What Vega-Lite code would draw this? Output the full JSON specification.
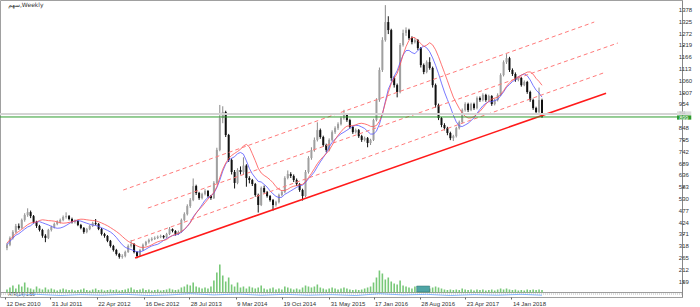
{
"$schema":"https://vega.github.io/schema/vega-lite/v6.json",
"width":682,"height":297,
"autosize":{"type":"none"},
"padding":{"left":0,"top":0,"right":18,"bottom":10},
"background":"white",
"config":{"view":{"stroke":"#a0a0a0","strokeWidth":1},"axis":{"labelFont":"Liberation Sans","labelFontSize":6,"labelColor":"#333","tickColor":"#666","domainColor":"#888","grid":false,"title":null,"labelOverlap":false,"labelFlush":false}},
"datasets":{
"one":[{"k":1}],
"yt":[{"p":159},{"p":212},{"p":265},{"p":318},{"p":371},{"p":424},{"p":477},{"p":530},{"p":583},{"p":636},{"p":689},{"p":742},{"p":795},{"p":848},{"p":954},{"p":1007},{"p":1060},{"p":1113},{"p":1166},{"p":1219},{"p":1272},{"p":1325},{"p":1378}],
"bars":[
{"i":0,"o":310,"h":332,"l":300,"c":324,"v":6},{"i":1,"o":324,"h":362,"l":318,"c":355,"v":10},{"i":2,"o":355,"h":390,"l":348,"c":382,"v":14},{"i":3,"o":382,"h":418,"l":376,"c":409,"v":8},{"i":4,"o":409,"h":420,"l":392,"c":400,"v":16},{"i":5,"o":400,"h":442,"l":396,"c":436,"v":12},{"i":6,"o":436,"h":466,"l":428,"c":458,"v":20},{"i":7,"o":458,"h":488,"l":450,"c":471,"v":10},{"i":8,"o":471,"h":478,"l":444,"c":453,"v":8},{"i":9,"o":453,"h":458,"l":420,"c":427,"v":6},
{"i":10,"o":427,"h":432,"l":400,"c":409,"v":12},{"i":11,"o":409,"h":414,"l":384,"c":391,"v":8},{"i":12,"o":391,"h":396,"l":356,"c":365,"v":6},{"i":13,"o":365,"h":372,"l":336,"c":355,"v":10},{"i":14,"o":355,"h":396,"l":350,"c":391,"v":6},{"i":15,"o":391,"h":410,"l":384,"c":404,"v":8},{"i":16,"o":404,"h":424,"l":398,"c":418,"v":6},{"i":17,"o":418,"h":434,"l":412,"c":427,"v":4},{"i":18,"o":427,"h":442,"l":420,"c":436,"v":6},{"i":19,"o":436,"h":456,"l":430,"c":449,"v":8},
{"i":20,"o":449,"h":470,"l":442,"c":453,"v":6},{"i":21,"o":453,"h":458,"l":434,"c":440,"v":5},{"i":22,"o":440,"h":446,"l":420,"c":427,"v":6},{"i":23,"o":427,"h":438,"l":420,"c":431,"v":4},{"i":24,"o":431,"h":436,"l":408,"c":413,"v":5},{"i":25,"o":413,"h":418,"l":394,"c":400,"v":6},{"i":26,"o":400,"h":404,"l":374,"c":382,"v":8},{"i":27,"o":382,"h":400,"l":376,"c":395,"v":5},{"i":28,"o":395,"h":414,"l":390,"c":409,"v":4},{"i":29,"o":409,"h":428,"l":404,"c":422,"v":6},
{"i":30,"o":422,"h":440,"l":412,"c":418,"v":8},{"i":31,"o":418,"h":422,"l":390,"c":395,"v":5},{"i":32,"o":395,"h":400,"l":366,"c":373,"v":6},{"i":33,"o":373,"h":378,"l":356,"c":364,"v":4},{"i":34,"o":364,"h":368,"l":336,"c":342,"v":5},{"i":35,"o":342,"h":346,"l":312,"c":319,"v":6},{"i":36,"o":319,"h":324,"l":294,"c":301,"v":5},{"i":37,"o":301,"h":306,"l":276,"c":283,"v":6},{"i":38,"o":283,"h":288,"l":262,"c":270,"v":4},{"i":39,"o":270,"h":282,"l":262,"c":274,"v":5},
{"i":40,"o":274,"h":298,"l":268,"c":292,"v":6},{"i":41,"o":292,"h":326,"l":288,"c":319,"v":8},{"i":42,"o":319,"h":346,"l":312,"c":328,"v":10},{"i":43,"o":328,"h":332,"l":286,"c":292,"v":6},{"i":44,"o":292,"h":296,"l":264,"c":274,"v":5},{"i":45,"o":274,"h":306,"l":270,"c":301,"v":6},{"i":46,"o":301,"h":330,"l":296,"c":324,"v":8},{"i":47,"o":324,"h":342,"l":318,"c":337,"v":5},{"i":48,"o":337,"h":352,"l":330,"c":346,"v":6},{"i":49,"o":346,"h":358,"l":340,"c":351,"v":4},
{"i":50,"o":351,"h":362,"l":346,"c":355,"v":5},{"i":51,"o":355,"h":366,"l":350,"c":360,"v":6},{"i":52,"o":360,"h":370,"l":354,"c":364,"v":4},{"i":53,"o":364,"h":368,"l":352,"c":358,"v":5},{"i":54,"o":358,"h":378,"l":354,"c":373,"v":6},{"i":55,"o":373,"h":404,"l":368,"c":395,"v":8},{"i":56,"o":395,"h":398,"l":380,"c":386,"v":6},{"i":57,"o":386,"h":390,"l":366,"c":373,"v":5},{"i":58,"o":373,"h":388,"l":368,"c":382,"v":6},{"i":59,"o":382,"h":442,"l":378,"c":436,"v":10},
{"i":60,"o":436,"h":470,"l":430,"c":462,"v":12},{"i":61,"o":462,"h":506,"l":456,"c":498,"v":16},{"i":62,"o":498,"h":534,"l":490,"c":525,"v":14},{"i":63,"o":525,"h":622,"l":520,"c":588,"v":20},{"i":64,"o":588,"h":594,"l":548,"c":557,"v":12},{"i":65,"o":557,"h":562,"l":526,"c":534,"v":10},{"i":66,"o":534,"h":558,"l":528,"c":552,"v":8},{"i":67,"o":552,"h":574,"l":546,"c":566,"v":10},{"i":68,"o":566,"h":570,"l":536,"c":543,"v":8},{"i":69,"o":543,"h":548,"l":526,"c":534,"v":12},
{"i":70,"o":534,"h":610,"l":530,"c":602,"v":24},{"i":71,"o":602,"h":760,"l":598,"c":750,"v":40},{"i":72,"o":750,"h":952,"l":744,"c":893,"v":56},{"i":73,"o":893,"h":946,"l":870,"c":920,"v":34},{"i":74,"o":920,"h":926,"l":808,"c":817,"v":22},{"i":75,"o":817,"h":822,"l":696,"c":705,"v":30},{"i":76,"o":705,"h":712,"l":640,"c":651,"v":16},{"i":77,"o":651,"h":660,"l":577,"c":602,"v":12},{"i":78,"o":602,"h":668,"l":596,"c":660,"v":20},{"i":79,"o":660,"h":676,"l":640,"c":651,"v":10},
{"i":80,"o":651,"h":717,"l":640,"c":680,"v":12},{"i":81,"o":680,"h":686,"l":585,"c":624,"v":8},{"i":82,"o":624,"h":632,"l":600,"c":615,"v":12},{"i":83,"o":615,"h":620,"l":588,"c":597,"v":10},{"i":84,"o":597,"h":602,"l":540,"c":548,"v":8},{"i":85,"o":548,"h":554,"l":469,"c":503,"v":10},{"i":86,"o":503,"h":586,"l":498,"c":579,"v":14},{"i":87,"o":579,"h":590,"l":554,"c":561,"v":8},{"i":88,"o":561,"h":566,"l":536,"c":543,"v":6},{"i":89,"o":543,"h":548,"l":518,"c":525,"v":8},
{"i":90,"o":525,"h":530,"l":478,"c":503,"v":10},{"i":91,"o":503,"h":522,"l":496,"c":516,"v":6},{"i":92,"o":516,"h":554,"l":510,"c":548,"v":8},{"i":93,"o":548,"h":568,"l":542,"c":561,"v":6},{"i":94,"o":561,"h":632,"l":556,"c":624,"v":12},{"i":95,"o":624,"h":658,"l":618,"c":642,"v":10},{"i":96,"o":642,"h":650,"l":624,"c":633,"v":8},{"i":97,"o":633,"h":640,"l":606,"c":615,"v":6},{"i":98,"o":615,"h":622,"l":588,"c":597,"v":8},{"i":99,"o":597,"h":602,"l":562,"c":570,"v":6},
{"i":100,"o":570,"h":576,"l":523,"c":543,"v":10},{"i":101,"o":543,"h":660,"l":538,"c":651,"v":14},{"i":102,"o":651,"h":722,"l":644,"c":714,"v":12},{"i":103,"o":714,"h":762,"l":706,"c":750,"v":10},{"i":104,"o":750,"h":806,"l":742,"c":795,"v":12},{"i":105,"o":795,"h":874,"l":788,"c":839,"v":16},{"i":106,"o":839,"h":846,"l":800,"c":808,"v":10},{"i":107,"o":808,"h":814,"l":764,"c":772,"v":8},{"i":108,"o":772,"h":778,"l":740,"c":750,"v":6},{"i":109,"o":750,"h":802,"l":744,"c":795,"v":8},
{"i":110,"o":795,"h":838,"l":788,"c":830,"v":10},{"i":111,"o":830,"h":856,"l":822,"c":848,"v":8},{"i":112,"o":848,"h":874,"l":840,"c":866,"v":6},{"i":113,"o":866,"h":900,"l":860,"c":893,"v":8},{"i":114,"o":893,"h":930,"l":886,"c":907,"v":10},{"i":115,"o":907,"h":912,"l":876,"c":884,"v":8},{"i":116,"o":884,"h":890,"l":846,"c":853,"v":6},{"i":117,"o":853,"h":858,"l":822,"c":830,"v":5},{"i":118,"o":830,"h":846,"l":824,"c":839,"v":6},{"i":119,"o":839,"h":844,"l":804,"c":812,"v":5},
{"i":120,"o":812,"h":818,"l":786,"c":795,"v":6},{"i":121,"o":795,"h":810,"l":788,"c":803,"v":8},{"i":122,"o":803,"h":808,"l":762,"c":781,"v":10},{"i":123,"o":781,"h":800,"l":772,"c":795,"v":12},{"i":124,"o":795,"h":890,"l":790,"c":884,"v":20},{"i":125,"o":884,"h":982,"l":878,"c":974,"v":30},{"i":126,"o":974,"h":1120,"l":966,"c":1109,"v":44},{"i":127,"o":1109,"h":1256,"l":1100,"c":1243,"v":38},{"i":128,"o":1243,"h":1400,"l":1236,"c":1324,"v":26},{"i":129,"o":1324,"h":1350,"l":1270,"c":1288,"v":30},
{"i":130,"o":1288,"h":1294,"l":1060,"c":1073,"v":22},{"i":131,"o":1073,"h":1080,"l":1030,"c":1041,"v":18},{"i":132,"o":1041,"h":1048,"l":986,"c":1010,"v":16},{"i":133,"o":1010,"h":1230,"l":1004,"c":1221,"v":24},{"i":134,"o":1221,"h":1290,"l":1214,"c":1275,"v":14},{"i":135,"o":1275,"h":1300,"l":1262,"c":1288,"v":12},{"i":136,"o":1288,"h":1294,"l":1244,"c":1252,"v":10},{"i":137,"o":1252,"h":1260,"l":1224,"c":1234,"v":8},{"i":138,"o":1234,"h":1252,"l":1228,"c":1243,"v":12},{"i":139,"o":1243,"h":1248,"l":1198,"c":1207,"v":8},
{"i":140,"o":1207,"h":1212,"l":1120,"c":1131,"v":10},{"i":141,"o":1131,"h":1138,"l":1090,"c":1100,"v":8},{"i":142,"o":1100,"h":1152,"l":1094,"c":1144,"v":6},{"i":143,"o":1144,"h":1166,"l":1110,"c":1118,"v":8},{"i":144,"o":1118,"h":1124,"l":1030,"c":1041,"v":10},{"i":145,"o":1041,"h":1048,"l":940,"c":952,"v":12},{"i":146,"o":952,"h":958,"l":884,"c":893,"v":10},{"i":147,"o":893,"h":898,"l":852,"c":862,"v":8},{"i":148,"o":862,"h":870,"l":838,"c":848,"v":6},{"i":149,"o":848,"h":854,"l":816,"c":826,"v":5},
{"i":150,"o":826,"h":832,"l":794,"c":803,"v":6},{"i":151,"o":803,"h":818,"l":790,"c":812,"v":5},{"i":152,"o":812,"h":854,"l":806,"c":848,"v":6},{"i":153,"o":848,"h":882,"l":842,"c":875,"v":5},{"i":154,"o":875,"h":936,"l":870,"c":929,"v":8},{"i":155,"o":929,"h":964,"l":922,"c":956,"v":6},{"i":156,"o":956,"h":962,"l":920,"c":929,"v":5},{"i":157,"o":929,"h":962,"l":924,"c":956,"v":6},{"i":158,"o":956,"h":962,"l":930,"c":938,"v":4},{"i":159,"o":938,"h":990,"l":932,"c":983,"v":6},
{"i":160,"o":983,"h":990,"l":966,"c":974,"v":5},{"i":161,"o":974,"h":1004,"l":968,"c":997,"v":6},{"i":162,"o":997,"h":1002,"l":966,"c":974,"v":4},{"i":163,"o":974,"h":998,"l":968,"c":992,"v":5},{"i":164,"o":992,"h":996,"l":948,"c":956,"v":6},{"i":165,"o":956,"h":980,"l":950,"c":974,"v":4},{"i":166,"o":974,"h":1004,"l":968,"c":997,"v":6},{"i":167,"o":997,"h":1094,"l":992,"c":1086,"v":8},{"i":168,"o":1086,"h":1152,"l":1080,"c":1144,"v":6},{"i":169,"o":1144,"h":1180,"l":1136,"c":1162,"v":8},
{"i":170,"o":1162,"h":1168,"l":1100,"c":1109,"v":6},{"i":171,"o":1109,"h":1116,"l":1082,"c":1091,"v":5},{"i":172,"o":1091,"h":1098,"l":1056,"c":1064,"v":6},{"i":173,"o":1064,"h":1080,"l":1058,"c":1073,"v":4},{"i":174,"o":1073,"h":1078,"l":1034,"c":1041,"v":5},{"i":175,"o":1041,"h":1062,"l":1036,"c":1055,"v":4},{"i":176,"o":1055,"h":1060,"l":1002,"c":1010,"v":6},{"i":177,"o":1010,"h":1016,"l":966,"c":974,"v":5},{"i":178,"o":974,"h":980,"l":930,"c":938,"v":6},{"i":179,"o":938,"h":944,"l":910,"c":920,"v":5},
{"i":180,"o":920,"h":1030,"l":914,"c":974,"v":6},{"i":181,"o":974,"h":980,"l":894,"c":899,"v":5}
],
"trend":[
{"name":"A","kind":"dash","i":39.33,"p":570},{"name":"A","kind":"dash","i":198.67,"p":1324},
{"name":"B","kind":"dash","i":47.67,"p":489},{"name":"B","kind":"dash","i":206.67,"p":1230},
{"name":"C","kind":"dash","i":42,"p":341},{"name":"C","kind":"dash","i":201.67,"p":1095},
{"name":"S","kind":"solid","i":43.33,"p":265},{"name":"S","kind":"solid","i":202.67,"p":1005}
],
"sub":[{"i":3,"s":0.6},{"i":10,"s":0.9},{"i":18,"s":0.5},{"i":25,"s":0.8},{"i":32,"s":0.6},{"i":40,"s":0.9},{"i":48,"s":0.5},{"i":55,"s":0.7},{"i":62,"s":1.1},{"i":70,"s":0.7},{"i":78,"s":1.0},{"i":86,"s":0.6},{"i":94,"s":0.9},{"i":102,"s":0.6},{"i":110,"s":0.8},{"i":118,"s":0.5},{"i":126,"s":1.1},{"i":134,"s":0.7},{"i":142,"s":0.9},{"i":150,"s":0.5},{"i":158,"s":0.8},{"i":166,"s":0.6},{"i":174,"s":0.9},{"i":181,"s":0.6}]
},
"layer":[
{"layer":[
 {"data":{"name":"bars"},"mark":{"type":"rule","strokeWidth":1},
  "encoding":{
   "x":{"field":"i","type":"quantitative","scale":{"domain":[-0.667,226.67],"nice":false,"zero":false},
    "axis":{"values":[-0.667,14.667,30.333,46.333,61.667,77.333,93,109,124,139.667,155,170.667],
    "labelExpr":"['12 Dec 2010','31 Jul 2011','22 Apr 2012','16 Dec 2012','28 Jul 2013','9 Mar 2014','19 Oct 2014','31 May 2015','17 Jan 2016','28 Aug 2016','23 Apr 2017','14 Jan 2018'][indexof([-1,15,30,46,62,77,93,109,124,140,155,171],round(datum.value))]",
    "labelAlign":"left","labelFlush":false,"labelOverlap":false,"labelOffset":1,"labelBaseline":"top","tickSize":2,"labelPadding":1,"domain":false}},
   "y":{"field":"l","type":"quantitative","scale":{"domain":[90,1423],"nice":false,"zero":false},
    "axis":{"orient":"right","values":[159,212,265,318,371,424,477,530,583,636,689,742,795,848,901,954,1007,1060,1113,1166,1219,1272,1325,1378],"labels":false,"tickSize":2,"domain":true}},
   "y2":{"field":"h"},
   "color":{"condition":{"test":"datum.c >= datum.o","value":"#8a8a8a"},"value":"#111111"}}},
 {"data":{"name":"bars"},"mark":{"type":"bar","width":2},
  "encoding":{"x":{"field":"i","type":"quantitative"},"y":{"field":"o","type":"quantitative"},
   "y2":{"field":"c"},
   "color":{"condition":{"test":"datum.c >= datum.o","value":"#a0a0a0"},"value":"#111111"}}},
 {"data":{"name":"bars"},"transform":[{"window":[{"op":"mean","field":"c","as":"mb"}],"frame":[-8,0],"sort":[{"field":"i"}]}],
  "mark":{"type":"line","color":"#5555ff","strokeWidth":0.8},
  "encoding":{"x":{"field":"i","type":"quantitative"},"y":{"field":"mb","type":"quantitative"}}},
 {"data":{"name":"bars"},"transform":[{"window":[{"op":"mean","field":"h","as":"mr"}],"frame":[-10,0],"sort":[{"field":"i"}]}],
  "mark":{"type":"line","color":"#ff5050","strokeWidth":0.8},
  "encoding":{"x":{"field":"i","type":"quantitative"},"y":{"field":"mr","type":"quantitative"}}},
 {"data":{"name":"trend"},"transform":[{"filter":"datum.kind == 'dash'"}],
  "mark":{"type":"line","color":"#ff7a7a","strokeWidth":1,"strokeDash":[4,3]},
  "encoding":{"x":{"field":"i","type":"quantitative"},"y":{"field":"p","type":"quantitative"},"detail":{"field":"name"}}},
 {"data":{"name":"trend"},"transform":[{"filter":"datum.kind == 'solid'"}],
  "mark":{"type":"line","color":"#ff1a1a","strokeWidth":1.6},
  "encoding":{"x":{"field":"i","type":"quantitative"},"y":{"field":"p","type":"quantitative"}}},
 {"data":{"name":"yt"},"mark":{"type":"text","color":"#333","fontSize":6,"font":"Liberation Sans","align":"left","baseline":"middle","clip":false},
  "encoding":{"x":{"datum":227.3,"type":"quantitative"},"y":{"field":"p","type":"quantitative"},"text":{"field":"p","type":"quantitative","format":"d"}}},
 {"data":{"name":"one"},"mark":{"type":"rule","color":"#d4d4d4","strokeWidth":2},
  "encoding":{"y":{"datum":911,"type":"quantitative"}}},
 {"data":{"name":"one"},"mark":{"type":"rule","color":"#2e9b2e","strokeWidth":1},
  "encoding":{"y":{"datum":898,"type":"quantitative"}}},
 {"data":{"name":"one"},"mark":{"type":"rule","color":"#9a9a9a","strokeWidth":1},
  "encoding":{"y":{"datum":110,"type":"quantitative"}}},
 {"data":{"name":"one"},"mark":{"type":"rect","color":"#dcdcdc","clip":false},
  "encoding":{"x":{"datum":226.67,"type":"quantitative"},"x2":{"datum":231.5},"y":{"datum":906,"type":"quantitative"},"y2":{"datum":923}}},
 {"data":{"name":"one"},"mark":{"type":"text","color":"#b4b4b4","fontSize":4,"font":"Liberation Sans","align":"left","baseline":"middle","clip":false},
  "encoding":{"x":{"datum":227.4,"type":"quantitative"},"y":{"datum":915,"type":"quantitative"},"text":{"value":"911"}}},
 {"data":{"name":"one"},"mark":{"type":"rect","color":"#2e9b2e","clip":false},
  "encoding":{"x":{"datum":226.67,"type":"quantitative"},"x2":{"datum":231.5},"y":{"datum":886,"type":"quantitative"},"y2":{"datum":905}}},
 {"data":{"name":"one"},"mark":{"type":"text","color":"white","fontSize":5.5,"font":"Liberation Sans","align":"left","baseline":"middle","clip":false},
  "encoding":{"x":{"datum":227.4,"type":"quantitative"},"y":{"datum":895,"type":"quantitative"},"text":{"value":"899"}}},
 {"data":{"name":"one"},"mark":{"type":"text","color":"#333","fontSize":6,"font":"DejaVu Sans","align":"left","baseline":"middle"},
  "encoding":{"x":{"datum":0.4,"type":"quantitative"},"y":{"datum":1400,"type":"quantitative"},"text":{"value":"سهم,Weekly"}}},
 {"data":{"name":"one"},"mark":{"type":"text","color":"#444","fontSize":4.5,"font":"Liberation Sans","align":"left","baseline":"middle"},
  "encoding":{"x":{"datum":0.4,"type":"quantitative"},"y":{"datum":99,"type":"quantitative"},"text":{"value":"ATR(14) 1.56"}}}
 ]},
{"layer":[
 {"data":{"name":"bars"},"mark":{"type":"bar","width":1.6,"color":"#78c878"},
  "encoding":{"x":{"field":"i","type":"quantitative"},"y":{"field":"v","type":"quantitative","scale":{"domain":[-9,585],"nice":false,"zero":false},"axis":null},"y2":{"datum":0}}},
 {"data":{"name":"one"},"mark":{"type":"rect","color":"#4fa5a5","stroke":"#2f6f6f","strokeWidth":0.5},
  "encoding":{"x":{"datum":138.6,"type":"quantitative"},"x2":{"datum":143},"y":{"datum":1,"type":"quantitative"},"y2":{"datum":13}}}
 ]},
{"layer":[
 {"data":{"name":"one"},"mark":{"type":"rule","color":"#bbbbbb","strokeWidth":1,"strokeDash":[1,1]},
  "encoding":{"y":{"datum":1.0,"type":"quantitative","scale":{"domain":[0,100],"nice":false,"zero":false},"axis":null}}},
 {"data":{"name":"sub"},"mark":{"type":"line","color":"#6aa8ff","strokeWidth":0.8},
  "encoding":{"x":{"field":"i","type":"quantitative"},"y":{"field":"s","type":"quantitative"}}}
 ]}
],
"resolve":{"scale":{"y":"independent"},"axis":{"y":"independent"}}
}
